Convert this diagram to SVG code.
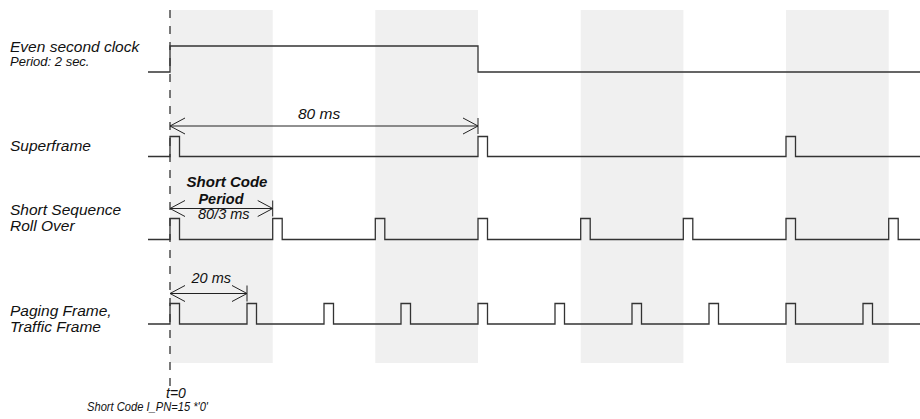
<svg xmlns="http://www.w3.org/2000/svg" width="920" height="419" viewBox="0 0 920 419">
<style>
.band{fill:#f0f0f0;stroke:none}
.wave{fill:none;stroke:#333;stroke-width:1.3}
.dim{fill:none;stroke:#222;stroke-width:1}
.lbl{font-family:"Liberation Sans",Arial,sans-serif;font-style:italic;fill:#111}
.b{font-weight:bold}
</style>
<rect width="920" height="419" fill="#fff"/>
<g id="bands">
<rect class="band" x="170" y="10" width="102.7" height="353"/>
<rect class="band" x="375.3" y="10" width="102.7" height="353"/>
<rect class="band" x="580.7" y="10" width="102.7" height="353"/>
<rect class="band" x="786" y="10" width="102.7" height="353"/>
</g>
<g id="t0-line">
<line x1="170" y1="10" x2="170" y2="386" stroke="#222" stroke-width="1.2" stroke-dasharray="8 8"/>
</g>
<g id="even-second-clock">
<path class="wave" d="M148,72 H170 V46 H478 V72 H920"/>
<text class="lbl" x="10" y="52" font-size="15.5">Even second clock</text>
<text class="lbl" x="10" y="66" font-size="13">Period: 2 sec.</text>
</g>
<g id="superframe">
<path class="wave" d="M148,156.5 H170 V136.5 H179.5 V156.5 H478 V136.5 H487.5 V156.5 H786 V136.5 H795.5 V156.5 H920"/>
<text class="lbl" x="10" y="151" font-size="15.5">Superframe</text>
</g>
<g id="short-sequence">
<path class="wave" d="M148,239.5 H170 V218.5 H179.5 V239.5 H272.7 V218.5 H282.2 V239.5 H375.3 V218.5 H384.8 V239.5 H478 V218.5 H487.5 V239.5 H580.7 V218.5 H590.2 V239.5 H683.3 V218.5 H692.8 V239.5 H786 V218.5 H795.5 V239.5 H888.7 V218.5 H898.2 V239.5 H920"/>
<text class="lbl" x="10" y="215" font-size="15.5">Short Sequence</text>
<text class="lbl" x="10" y="231" font-size="15.5">Roll Over</text>
</g>
<g id="paging-frame">
<path class="wave" d="M148,324 H170 V303.5 H179.5 V324 H247 V303.5 H256.5 V324 H324 V303.5 H333.5 V324 H401 V303.5 H410.5 V324 H478 V303.5 H487.5 V324 H555 V303.5 H564.5 V324 H632 V303.5 H641.5 V324 H709 V303.5 H718.5 V324 H786 V303.5 H795.5 V324 H863 V303.5 H872.5 V324 H920"/>
<text class="lbl" x="10" y="316" font-size="15.5">Paging Frame,</text>
<text class="lbl" x="10" y="332" font-size="15.5">Traffic Frame</text>
</g>
<g id="connectors">
<line class="dim" x1="170" y1="126" x2="478" y2="126"/>
<polyline class="dim" points="185,118 170,126 185,134"/>
<polyline class="dim" points="463,118 478,126 463,134"/>
<line class="dim" x1="478" y1="118" x2="478" y2="134"/>
<line class="dim" x1="170" y1="208.5" x2="272.7" y2="208.5"/>
<polyline class="dim" points="185,200.5 170,208.5 185,216.5"/>
<polyline class="dim" points="257.7,200.5 272.7,208.5 257.7,216.5"/>
<line class="dim" x1="272.7" y1="200.5" x2="272.7" y2="216.5"/>
<line class="dim" x1="170" y1="293.5" x2="247" y2="293.5"/>
<polyline class="dim" points="185,285.5 170,293.5 185,301.5"/>
<polyline class="dim" points="232,285.5 247,293.5 232,301.5"/>
<line class="dim" x1="247" y1="285.5" x2="247" y2="301.5"/>
</g>
<g id="labels">
<text class="lbl" x="298" y="119" font-size="15.5">80 ms</text>
<text class="lbl b" x="227" y="187" font-size="15" text-anchor="middle">Short Code</text>
<text class="lbl b" x="221" y="204" font-size="14.5" text-anchor="middle">Period</text>
<text class="lbl" x="198" y="219" font-size="14.5">80/3 ms</text>
<text class="lbl" x="191.5" y="283" font-size="14.5">20 ms</text>
<text class="lbl" x="166" y="397.5" font-size="14">t=0</text>
<text class="lbl" x="87" y="411" font-size="12" textLength="121" lengthAdjust="spacingAndGlyphs">Short Code I_PN=15 *'0'</text>
</g>
</svg>
